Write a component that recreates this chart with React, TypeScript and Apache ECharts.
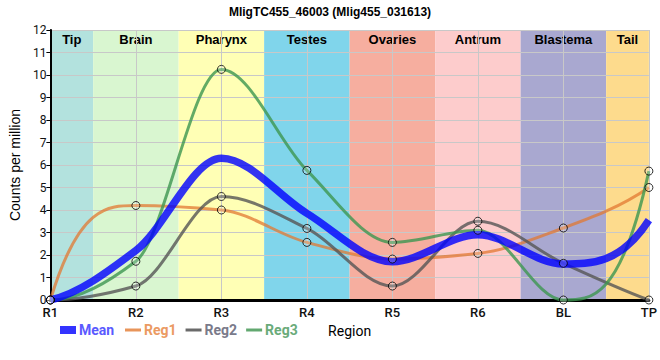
import React, { useEffect, useRef } from "react";
import * as echarts from "echarts";

const categories = ["R1", "R2", "R3", "R4", "R5", "R6", "BL", "TP"];
const meanValues = [0, 2.2, 6.3, 3.85, 1.7, 2.9, 1.6, 3.55];
const reg1Values = [0, 4.2, 4.0, 2.56, 1.82, 2.07, 3.2, 5.0];
const reg2Values = [0, 0.62, 4.6, 3.18, 0.62, 3.5, 1.63, 0];
const reg3Values = [0, 1.72, 10.25, 5.76, 2.56, 3.1, 0, 5.73];
const yTicks = [0, 1, 2, 3, 4, 5, 6, 7, 8, 9, 10, 11, 12];
const regions = ["Tip", "Brain", "Pharynx", "Testes", "Ovaries", "Antrum", "Blastema", "Tail"];
const regionStarts = [0, 0.5, 1.5, 2.5, 3.5, 4.5, 5.5, 6.5];
const regionEnds = [0.5, 1.5, 2.5, 3.5, 4.5, 5.5, 6.5, 7];
const regionColors = ["#b3e2de", "#d9f6d0", "#ffffb5", "#80d5eb", "#f6ae9f", "#fdcccc", "#a9a8d0", "#fddb8d"];
const tailBoundary = 6.5;

const FONT = "Roboto, 'Liberation Sans', sans-serif";

// One continuous path made of cubic bezier segments (pixel coordinates are
// supplied by the custom series from the chart's own axes).
echarts.graphic.registerShape(
  "monoCurve",
  echarts.graphic.extendShape({
    shape: { segs: [] as number[][] },
    buildPath(ctx: any, shape: any) {
      const segs = shape.segs as number[][];
      if (!segs.length) return;
      ctx.moveTo(segs[0][0], segs[0][1]);
      for (const s of segs) {
        ctx.bezierCurveTo(s[2], s[3], s[4], s[5], s[6], s[7]);
      }
    },
  })
);

// Monotone cubic tangents (harmonic mean inside, clamped end tangents).
function tangents(ys: number[]): number[] {
  const n = ys.length;
  const m: number[] = new Array(n).fill(0);
  for (let i = 1; i < n - 1; i++) {
    const s0 = ys[i] - ys[i - 1];
    const s1 = ys[i + 1] - ys[i];
    m[i] = s0 * s1 > 0 ? (2 * s0 * s1) / (s0 + s1) : 0;
  }
  const endT = (s: number, inner: number) => {
    const t = 3 * s - 2 * inner;
    const lo = Math.min(0, 3 * s);
    const hi = Math.max(0, 3 * s);
    return Math.max(lo, Math.min(hi, t));
  };
  m[0] = endT(ys[1] - ys[0], m[1]);
  m[n - 1] = endT(ys[n - 1] - ys[n - 2], m[n - 2]);
  return m;
}

export default function App() {
  const ref = useRef<HTMLDivElement>(null);
  useEffect(() => {
    if (!ref.current) return;
    const chart = echarts.init(ref.current, undefined, { renderer: "svg" });
    const pts = (vals: number[]) => vals.map((v, i) => [i, v]);

    const curveSeries = (name: string, vals: number[], color: string, width: number, z: number) => {
      const m = tangents(vals);
      return {
        name,
        type: "custom",
        data: pts(vals),
        z,
        silent: true,
        itemStyle: { color },
        renderItem: (params: any, api: any) => {
          if (params.dataIndex !== 0) return null;
          const segs: number[][] = [];
          for (let i = 0; i < vals.length - 1; i++) {
            const p0 = api.coord([i, vals[i]]);
            const c1 = api.coord([i + 1 / 3, vals[i] + m[i] / 3]);
            const c2 = api.coord([i + 1 - 1 / 3, vals[i + 1] - m[i + 1] / 3]);
            const p1 = api.coord([i + 1, vals[i + 1]]);
            segs.push([p0[0], p0[1], c1[0], c1[1], c2[0], c2[1], p1[0], p1[1]]);
          }
          return {
            type: "monoCurve",
            shape: { segs },
            style: { stroke: color, lineWidth: width, fill: "none", lineJoin: "round" },
          };
        },
      };
    };

    const markerSeries = (name: string, vals: number[]) => ({
      name,
      type: "scatter",
      data: pts(vals),
      z: 6,
      silent: true,
      symbol: "circle",
      symbolSize: 8,
      itemStyle: { color: "rgba(255,255,255,0.25)", borderColor: "#000", borderWidth: 1 },
      emphasis: { disabled: true },
    });

    chart.setOption({
      animation: false,
      title: {
        text: "MligTC455_46003 (Mlig455_031613)",
        left: "center",
        top: 1,
        textStyle: { fontSize: 12, fontWeight: "bold", fontFamily: "'Liberation Sans', Arial, sans-serif", color: "#000" },
      },
      grid: { left: 50, right: 9, top: 30, bottom: 60 },
      legend: [
        {
          left: 55,
          top: 318,
          icon: "rect",
          itemWidth: 16,
          itemHeight: 8,
          itemGap: 10,
          itemStyle: { borderWidth: 0 },
          textStyle: { fontSize: 14, fontFamily: FONT, fontWeight: "bold", padding: [0, 0, 0, -2] },
          data: [{ name: "Mean", itemStyle: { color: "#3333ff", borderWidth: 0 }, textStyle: { color: "#5a5aff" } }],
        },
        {
          left: 120,
          top: 318,
          icon: "rect",
          itemWidth: 16,
          itemHeight: 3,
          itemGap: 9,
          itemStyle: { borderWidth: 0 },
          textStyle: { fontSize: 14, fontFamily: FONT, fontWeight: "bold", padding: [0, 0, 0, -2] },
          data: [
            { name: "Reg1", itemStyle: { color: "#e8955a", borderWidth: 0 }, textStyle: { color: "#eb9a62" } },
            { name: "Reg2", itemStyle: { color: "#6a6a6a", borderWidth: 0 }, textStyle: { color: "#7a7a8a" } },
            { name: "Reg3", itemStyle: { color: "#62a870", borderWidth: 0 }, textStyle: { color: "#6aab7a" } },
          ],
        },
      ],
      xAxis: [
        {
          type: "value",
          min: 0,
          max: 7,
          interval: 1,
          z: 3,
          name: "Region",
          nameLocation: "middle",
          nameGap: 23,
          nameTextStyle: { fontSize: 14, fontFamily: FONT, color: "#000" },
          axisLine: { show: true, lineStyle: { color: "#000", width: 3 } },
          axisTick: { show: false },
          axisLabel: {
            formatter: (v: number) => categories[v] ?? "",
            fontSize: 13,
            fontFamily: FONT,
            fontWeight: 500,
            color: "#111",
            margin: 6,
          },
          splitLine: { show: true, lineStyle: { color: "#c8c8c8", width: 1 } },
        },
        {
          type: "value",
          position: "top",
          min: 0,
          max: 7,
          z: 3,
          axisLine: { show: true, lineStyle: { color: "#000", width: 1 } },
          axisTick: { show: false },
          axisLabel: { show: false },
          splitLine: { show: false },
        },
      ],
      yAxis: [
        {
          type: "value",
          min: yTicks[0],
          max: yTicks[yTicks.length - 1],
          interval: 1,
          z: 3,
          name: "Counts per million",
          nameLocation: "middle",
          nameGap: 21,
          nameTextStyle: { fontSize: 14, fontFamily: "'Liberation Sans', Arial, sans-serif", color: "#000" },
          axisLine: { show: true, lineStyle: { color: "#000", width: 2 } },
          axisTick: { show: true, inside: false, length: 4, lineStyle: { color: "#000", width: 1 } },
          axisLabel: { fontSize: 12, fontFamily: FONT, color: "#111", margin: 4 },
          splitLine: { show: true, lineStyle: { color: "#c8c8c8", width: 1 } },
        },
        {
          type: "value",
          position: "right",
          min: 0,
          max: 12,
          z: 3,
          axisLine: { show: true, lineStyle: { color: "#000", width: 1 } },
          axisTick: { show: false },
          axisLabel: { show: false },
          splitLine: { show: false },
        },
      ],
      series: [
        {
          name: "bands",
          type: "line",
          data: [],
          z: 1,
          silent: true,
          markArea: {
            silent: true,
            data: regions.map((r, i) => [
              {
                name: r,
                xAxis: regionStarts[i],
                yAxis: 0,
                itemStyle: { color: regionColors[i] },
              },
              { xAxis: regionEnds[i], yAxis: 12 },
            ]),
            label: {
              show: true,
              position: "insideTop",
              distance: 3,
              fontSize: 13,
              fontWeight: "bold",
              fontFamily: "'Liberation Sans', Arial, sans-serif",
              color: "#000",
            },
          },
        },
        curveSeries("Reg1", reg1Values, "rgba(225,120,50,0.75)", 3, 4),
        curveSeries("Reg2", reg2Values, "rgba(85,85,85,0.8)", 3, 4),
        curveSeries("Reg3", reg3Values, "rgba(60,150,80,0.8)", 3, 4),
        curveSeries("Mean", meanValues, "rgba(0,0,255,0.8)", 7.5, 5),
        markerSeries("Reg1 points", reg1Values),
        markerSeries("Reg2 points", reg2Values),
        markerSeries("Reg3 points", reg3Values),
        {
          name: "boundary",
          type: "line",
          data: [],
          z: 7,
          clip: false,
          markLine: {
            silent: true,
            symbol: "none",
            label: { show: false },
            lineStyle: { color: "#000", type: [5, 4], width: 2 },
            data: [[{ coord: [tailBoundary, -0.25] }, { coord: [tailBoundary, 12] }]],
          },
        },
      ],
    });
    return () => chart.dispose();
  }, []);
  return <div ref={ref} style={{ width: 660, height: 360, position: "absolute", left: 0, top: 0 }} />;
}
